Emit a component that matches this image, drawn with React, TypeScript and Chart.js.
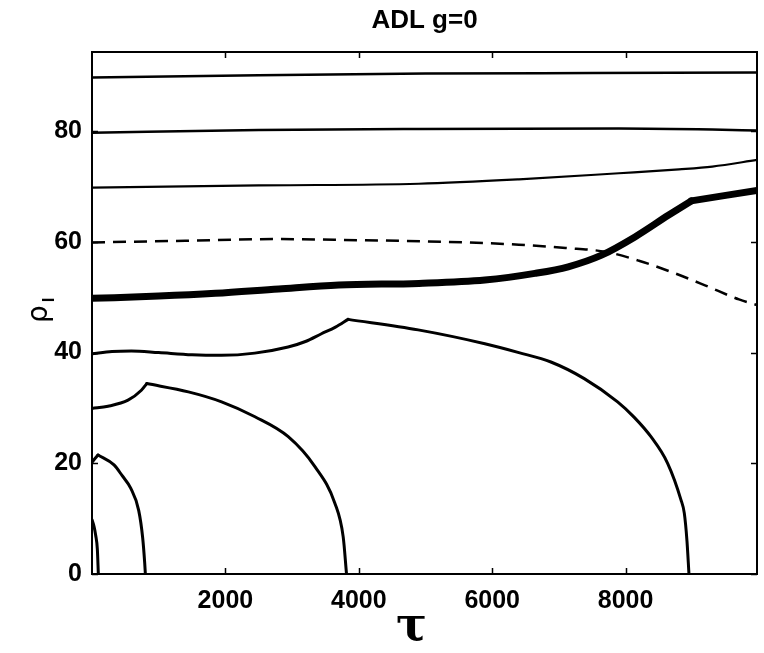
import React, { useEffect, useRef } from "react";
import { Chart, registerables } from "chart.js";

Chart.register(...registerables);

const titleText = "ADL g=0";
const xLabel = "τ";
const yLabel = "ρ";
const yLabelSub = "l";

const tauTicks = [2000, 4000, 6000, 8000];
const rhoTicks = [0, 20, 40, 60, 80];
const tauMin = 0;
const tauMax = 9970;
const rhoMin = 0;
const rhoMax = 94.3;

const c90Tau = [0, 2500, 5000, 7500, 9970];
const c90Rho = [89.7, 90.1, 90.4, 90.5, 90.6];

const c80Tau = [0, 2500, 4900, 7900, 9300, 9970];
const c80Rho = [79.7, 80.2, 80.4, 80.5, 80.3, 80.1];

const c70Tau = [0, 2500, 4900, 6400, 7900, 8800, 9300, 9970];
const c70Rho = [69.8, 70.2, 70.5, 71.3, 72.4, 73.1, 73.6, 74.8];

const dashTau = [0, 1400, 2800, 4000, 5000, 6400, 7100, 7700, 8200, 8700, 9200, 9700, 9970];
const dashRho = [59.9, 60.2, 60.5, 60.3, 60.1, 59.5, 58.9, 58.2, 56.6, 54.5, 52.1, 49.6, 48.6];

// thick curve: before and after its kink
const thickATau = [0, 1000, 1850, 2800, 3700, 4900, 5890, 6640, 7140, 7640, 8140, 8640, 8985];
const thickARho = [49.8, 50.2, 50.7, 51.5, 52.2, 52.5, 53.1, 54.3, 55.5, 57.6, 60.9, 64.8, 67.4];
const thickBTau = [8985, 9970];
const thickBRho = [67.4, 69.3];

// 40 curve: rise to its cusp, then fall
const c40ATau = [0, 300, 590, 1000, 1500, 1940, 2440, 2940, 3200, 3440, 3650, 3840];
const c40ARho = [39.8, 40.2, 40.3, 40.0, 39.6, 39.5, 39.9, 41.0, 42.0, 43.4, 44.6, 46.0];
const c40BTau = [3840, 4890, 5890, 6400, 6880, 7380, 7880, 8130, 8380, 8630, 8830, 8880, 8920, 8950];
const c40BRho = [46.0, 44.1, 41.6, 40.0, 38.3, 35.3, 31.1, 28.3, 24.8, 20.0, 13.4, 11.0, 6.0, 0];

// 30 curve
const c30ATau = [0, 240, 540, 740, 821];
const c30ARho = [29.9, 30.3, 31.4, 33.2, 34.4];
const c30BTau = [821, 1445, 1943, 2443, 2942, 3342, 3641, 3766, 3816];
const c30BRho = [34.4, 32.9, 31.1, 28.4, 24.8, 19.4, 12.8, 6.7, 0];

// 20 curve
const c20ATau = [0, 90];
const c20ARho = [20.2, 21.5];
const c20BTau = [90, 330, 450, 580, 700, 760, 790, 800];
const c20BRho = [21.5, 19.7, 17.8, 15.5, 11.5, 6.5, 2, 0];

// 10 curve
const c10Tau = [0, 30, 55, 80, 95];
const c10Rho = [9.8, 8.6, 7.0, 4.5, 0];

function pts(t: number[], r: number[]) {
  return t.map((v, i) => ({ x: v, y: r[i] }));
}

const frame = {
  id: "frame",
  afterDraw(chart: any) {
    const { ctx, chartArea, scales } = chart;
    const { left, right, top, bottom } = chartArea;
    const x = scales.x;
    const y = scales.y;
    ctx.save();
    ctx.strokeStyle = "#000";
    ctx.lineWidth = 2;
    ctx.strokeRect(left, top, right - left, bottom - top);
    ctx.lineWidth = 1.5;
    ctx.beginPath();
    for (const v of tauTicks) {
      const px = Math.round(x.getPixelForValue(v)) + 0.5;
      ctx.moveTo(px, bottom);
      ctx.lineTo(px, bottom - 6);
      ctx.moveTo(px, top);
      ctx.lineTo(px, top + 6);
    }
    for (const v of rhoTicks) {
      const py = Math.round(y.getPixelForValue(v)) + 0.5;
      ctx.moveTo(left, py);
      ctx.lineTo(left + 6, py);
      ctx.moveTo(right, py);
      ctx.lineTo(right - 6, py);
    }
    ctx.stroke();

    ctx.fillStyle = "#000";
    ctx.textAlign = "center";
    ctx.textBaseline = "middle";
    ctx.font = "bold 26px 'Liberation Sans', Arial, sans-serif";
    ctx.fillText(titleText, (left + right) / 2, 21);

    ctx.font = "bold 46px 'DejaVu Serif', serif";
    ctx.fillText(xLabel, (left + right) / 2 - 13, 628);

    ctx.save();
    ctx.translate(40, 314);
    ctx.rotate(-Math.PI / 2);
    ctx.font = "28px 'DejaVu Sans', sans-serif";
    ctx.fillText(yLabel, 0, 0);
    ctx.font = "bold 17px 'Liberation Sans', Arial, sans-serif";
    ctx.fillText(yLabelSub, 14, 9);
    ctx.restore();
    ctx.restore();
  },
};

export default function App() {
  const ref = useRef<HTMLCanvasElement | null>(null);
  useEffect(() => {
    if (!ref.current) return;
    const line = (t: number[], r: number[], w: number, extra: any = {}) => ({
      data: pts(t, r),
      showLine: true,
      borderColor: "#000",
      borderWidth: w,
      pointRadius: 0,
      cubicInterpolationMode: "monotone" as const,
      fill: false,
      borderJoinStyle: "round" as const,
      borderCapStyle: "round" as const,
      ...extra,
    });
    const chart = new Chart(ref.current, {
      type: "scatter",
      data: {
        datasets: [
          line(c90Tau, c90Rho, 2.5),
          line(c80Tau, c80Rho, 2.5),
          line(c70Tau, c70Rho, 2.2),
          line(dashTau, dashRho, 2.5, { borderDash: [13, 8], borderCapStyle: "butt" }),
          line(thickATau, thickARho, 7),
          line(thickBTau, thickBRho, 7),
          line(c40ATau, c40ARho, 3),
          line(c40BTau, c40BRho, 3),
          line(c30ATau, c30ARho, 3),
          line(c30BTau, c30BRho, 3),
          line(c20ATau, c20ARho, 3),
          line(c20BTau, c20BRho, 3),
          line(c10Tau, c10Rho, 3),
        ],
      },
      options: {
        animation: false,
        responsive: true,
        maintainAspectRatio: false,
        layout: { padding: { left: 0, right: 7, top: 52, bottom: 0 } },
        plugins: { legend: { display: false }, tooltip: { enabled: false }, title: { display: false } },
        scales: {
          x: {
            type: "linear",
            min: tauMin,
            max: tauMax,
            grid: { display: false, drawTicks: false },
            border: { display: false },
            afterBuildTicks: (s: any) => {
              s.ticks = tauTicks.map((v) => ({ value: v }));
            },
            afterFit: (s: any) => {
              s.height = 79;
            },
            ticks: {
              padding: 12,
              color: "#000",
              maxRotation: 0,
              autoSkip: false,
              font: { family: "'Liberation Sans', Arial, sans-serif", size: 25, weight: "bold" },
              callback: (v: any) => String(v),
            },
          },
          y: {
            type: "linear",
            min: rhoMin,
            max: rhoMax,
            grid: { display: false, drawTicks: false },
            border: { display: false },
            afterBuildTicks: (s: any) => {
              s.ticks = rhoTicks.map((v) => ({ value: v }));
            },
            afterFit: (s: any) => {
              s.width = 92;
            },
            ticks: {
              padding: 10,
              color: "#000",
              autoSkip: false,
              font: { family: "'Liberation Sans', Arial, sans-serif", size: 25, weight: "bold" },
              callback: (v: any) => String(v),
            },
          },
        },
      },
      plugins: [frame],
    });
    return () => chart.destroy();
  }, []);
  return (
    <div style={{ position: "fixed", left: 0, top: 0, width: 764, height: 653, background: "#fff" }}>
      <canvas ref={ref} />
    </div>
  );
}
